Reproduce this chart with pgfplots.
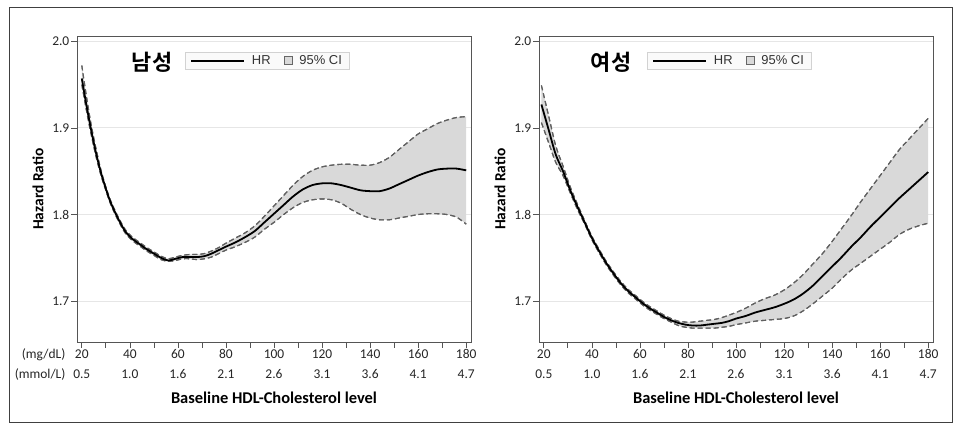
\documentclass[border=0pt]{standalone}
\usepackage{fontspec}
\usepackage{pgfplots}
\usepackage{pgfplotstable}
\pgfplotsset{compat=1.18}
\usepgfplotslibrary{fillbetween}
\setmainfont{Carlito}
\newfontfamily\arialf{Liberation Sans}
\newfontfamily\kr[BoldFont={Noto Sans CJK KR Bold}]{Noto Sans CJK KR}

\definecolor{cifill}{HTML}{D9D9D9}
\definecolor{cidash}{HTML}{606060}
\definecolor{axline}{HTML}{555555}
\definecolor{gridc}{HTML}{E6E6E6}

% x  hr  lo  hi
\pgfplotstableread{
x hr lo hi
20 1.957 1.950 1.972
22 1.925 1.919 1.935
24 1.896 1.891 1.902
26 1.870 1.866 1.875
28 1.848 1.845 1.851
30 1.830 1.828 1.832
32 1.814 1.812 1.816
35 1.796 1.794 1.798
38 1.781 1.779 1.783
41 1.772 1.770 1.774
44 1.766 1.764 1.768
47 1.760 1.758 1.762
50 1.755 1.753 1.757
53 1.750 1.748 1.752
56 1.747 1.746 1.749
59 1.749 1.747 1.751
62 1.751 1.749 1.753
65 1.751 1.749 1.754
68 1.751 1.748 1.754
71 1.752 1.749 1.755
74 1.755 1.751 1.758
77 1.759 1.755 1.762
80 1.763 1.759 1.767
84 1.768 1.763 1.773
88 1.774 1.768 1.779
92 1.781 1.774 1.787
96 1.791 1.783 1.798
100 1.801 1.791 1.810
104 1.811 1.800 1.822
108 1.821 1.808 1.834
112 1.829 1.814 1.844
116 1.834 1.817 1.851
120 1.836 1.818 1.855
124 1.836 1.817 1.857
128 1.834 1.813 1.858
132 1.831 1.806 1.858
136 1.828 1.800 1.857
140 1.827 1.796 1.857
144 1.827 1.794 1.860
148 1.830 1.794 1.866
152 1.835 1.796 1.875
156 1.840 1.798 1.884
160 1.845 1.800 1.893
164 1.849 1.801 1.899
168 1.852 1.801 1.905
172 1.853 1.800 1.909
176 1.853 1.797 1.912
180 1.851 1.789 1.913
}\male

\pgfplotstableread{
x hr lo hi
19 1.927 1.906 1.949
22 1.898 1.883 1.914
25 1.869 1.860 1.879
28 1.850 1.845 1.856
31 1.828 1.825 1.832
34 1.809 1.806 1.812
37 1.791 1.789 1.793
40 1.773 1.771 1.775
43 1.758 1.756 1.760
46 1.744 1.742 1.746
49 1.732 1.730 1.734
52 1.721 1.719 1.723
55 1.712 1.710 1.714
58 1.705 1.703 1.707
61 1.698 1.696 1.700
64 1.692 1.690 1.694
67 1.687 1.685 1.689
70 1.682 1.680 1.684
73 1.678 1.676 1.680
76 1.675 1.672 1.677
79 1.673 1.670 1.676
82 1.672 1.669 1.676
85 1.672 1.669 1.677
88 1.673 1.669 1.678
91 1.674 1.669 1.679
94 1.675 1.670 1.681
97 1.677 1.671 1.684
100 1.680 1.673 1.687
104 1.683 1.675 1.692
108 1.687 1.677 1.698
112 1.690 1.678 1.703
116 1.693 1.679 1.707
120 1.697 1.680 1.713
124 1.702 1.683 1.721
128 1.709 1.689 1.731
132 1.718 1.697 1.743
136 1.729 1.706 1.755
140 1.740 1.715 1.769
144 1.751 1.726 1.784
148 1.763 1.736 1.799
152 1.774 1.744 1.815
156 1.786 1.752 1.830
160 1.797 1.760 1.845
164 1.808 1.768 1.860
168 1.819 1.777 1.875
172 1.829 1.783 1.887
176 1.839 1.787 1.899
180 1.849 1.790 1.911
}\female

\pgfplotsset{
  hdl/.style={
    scale only axis, width=394bp, height=306bp,
    anchor=south west,
    xmin=18, xmax=182, ymin=1.653, ymax=2.006,
    axis line style={axline, line width=0.9bp},
    every tick/.style={axline, line width=0.7bp},
    tick align=outside, xtick pos=bottom, ytick pos=left,
    major tick length=6bp, minor tick length=6bp,
    xtick={20,40,...,180}, minor xtick={30,50,...,170},
    xticklabels={20\\0.5,40\\1.0,60\\1.6,80\\2.1,100\\2.6,120\\3.1,140\\3.6,160\\4.1,180\\4.7},
    xticklabel style={align=center, font=\fontsize{13.5}{20}\selectfont, text=black!85, inner sep=1.5bp},
    ytick={1.7,1.8,1.9,2.0}, yticklabels={1.7,1.8,1.9,2.0},
    yticklabel style={font=\fontsize{13.5}{15}\selectfont, text=black!85, inner sep=1.5bp},
    ymajorgrids, grid style={gridc, line width=0.8bp},
    xlabel={Baseline HDL-Cholesterol level},
    ylabel={Hazard Ratio},
    xlabel style={font=\bfseries\fontsize{16.5}{18}\selectfont, at={(axis description cs:0.5,-0.183)}, anchor=center},
    ylabel style={font=\bfseries\fontsize{15.5}{18}\selectfont, at={(axis description cs:-0.099,0.5)}, anchor=center},
    legend columns=2,
    legend style={at={(axis description cs:0.274,0.948)}, anchor=north west,
      draw=gray!35, fill=gray!4, font=\arialf\fontsize{13}{14}\selectfont,
      text=black!80, inner xsep=5bp, inner ysep=1.5bp,
      /tikz/every odd column/.append style={column sep=5bp},
      /tikz/every even column/.append style={column sep=11bp}},
    legend cell align=left,
  },
  hrline/.style={black, line width=1.8bp, smooth},
  ciline/.style={cidash, line width=1.1bp, dash pattern=on 5bp off 3bp, smooth},
}

\begin{document}
\begin{tikzpicture}
\draw[black!75, line width=1bp] (9bp,12bp) rectangle (952bp,427bp);
\path (0bp,0bp) rectangle (960bp,435bp);

\begin{axis}[hdl, at={(77bp,93bp)}]
\addlegendimage{legend image code/.code={\draw[black, line width=1.8bp] (0bp,0bp) -- (53bp,0bp);}}
\addlegendentry{HR}
\addlegendimage{legend image code/.code={\draw[fill=cifill, draw=black!60, line width=0.8bp] (0bp,-4bp) rectangle (8bp,4bp);}}
\addlegendentry{95\% CI}
\addplot[ciline, name path=mhi, forget plot] table[x=x, y=hi] {\male};
\addplot[ciline, name path=mlo, forget plot] table[x=x, y=lo] {\male};
\addplot[cifill, forget plot] fill between[of=mhi and mlo];
\addplot[ciline, forget plot] table[x=x, y=hi] {\male};
\addplot[ciline, forget plot] table[x=x, y=lo] {\male};
\addplot[hrline, forget plot] table[x=x, y=hr] {\male};
\end{axis}

\begin{axis}[hdl, at={(539bp,93bp)}]
\addlegendimage{legend image code/.code={\draw[black, line width=1.8bp] (0bp,0bp) -- (53bp,0bp);}}
\addlegendentry{HR}
\addlegendimage{legend image code/.code={\draw[fill=cifill, draw=black!60, line width=0.8bp] (0bp,-4bp) rectangle (8bp,4bp);}}
\addlegendentry{95\% CI}
\addplot[ciline, name path=fhi, forget plot] table[x=x, y=hi] {\female};
\addplot[ciline, name path=flo, forget plot] table[x=x, y=lo] {\female};
\addplot[cifill, forget plot] fill between[of=fhi and flo];
\addplot[ciline, forget plot] table[x=x, y=hi] {\female};
\addplot[ciline, forget plot] table[x=x, y=lo] {\female};
\addplot[hrline, forget plot] table[x=x, y=hr] {\female};
\end{axis}

\node[anchor=center, font=\kr\bfseries\fontsize{22}{24}\selectfont] at (152bp,373bp) {남성};
\node[anchor=center, font=\kr\bfseries\fontsize{22}{24}\selectfont] at (611bp,373bp) {여성};
\node[anchor=east, font=\fontsize{13.5}{15}\selectfont, text=black!85] at (69bp,80bp) {(mg/dL)};
\node[anchor=east, font=\fontsize{13.5}{15}\selectfont, text=black!85] at (69bp,60bp) {(mmol/L)};
\end{tikzpicture}
\end{document}
